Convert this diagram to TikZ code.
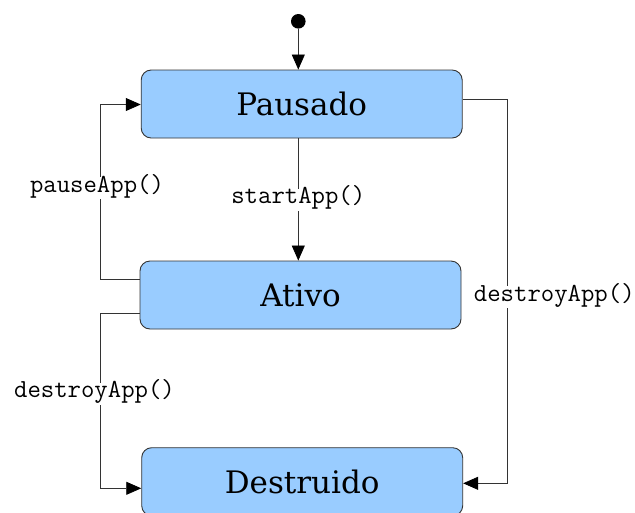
\documentclass[tikz,border=0pt]{standalone}
\usepackage{fontspec}
\newfontfamily\boxfont{DejaVu Serif}
\usetikzlibrary{arrows.meta}
\definecolor{stfill}{HTML}{99CCFF}
\definecolor{ln}{HTML}{333333}
\tikzset{
  state/.style={draw=ln, line width=0.9pt, fill=stfill, rounded corners=10pt,
    minimum width=321pt, minimum height=68pt, inner sep=0pt,
    font=\boxfont\fontsize{31}{32}\selectfont},
  conn/.style={draw=ln, line width=0.8pt},
  arr/.style={conn, -{Triangle[length=15pt,width=13pt,color=black]}},
  lbl/.style={fill=white, inner sep=2pt, text height=13pt, text depth=5pt,
    font=\ttfamily\fontsize{26}{28}\selectfont, text=black}
}
\begin{document}
\begin{tikzpicture}[x=1pt,y=-1pt]
\useasboundingbox (0,0) rectangle (635,512);
\node[state] (P) at (301.7,104) {Pausado};
\node[state] (A) at (300.5,295) {Ativo};
\node[state] (D) at (302.2,481.7) {Destruido};
\node[circle, fill=black, minimum size=14.6pt, inner sep=0pt] (init) at (298.3,21.3) {};
\draw[arr] (init) -- (init |- P.north);
\draw[arr] (init |- P.south) -- node[lbl, pos=0.50]{startApp()} (init |- A.north);
\draw[arr] (A.west |- 0,279.3) -- (100,279.3) -- node[lbl, pos=0.52, xshift=-3pt]{pauseApp()} (100,104.5) -- (P.west |- 0,104.5);
\draw[arr] (A.west |- 0,313.3) -- (100,313.3) -- node[lbl, pos=0.46, xshift=-5.5pt]{destroyApp()} (100,488.3) -- (D.west |- 0,488.3);
\draw[arr] (P.east |- 0,99.3) -- (507.3,99.3) -- node[lbl, pos=0.515, xshift=47pt]{destroyApp()} (507.3,483.3) -- (D.east |- 0,483.3);
\end{tikzpicture}
\end{document}
